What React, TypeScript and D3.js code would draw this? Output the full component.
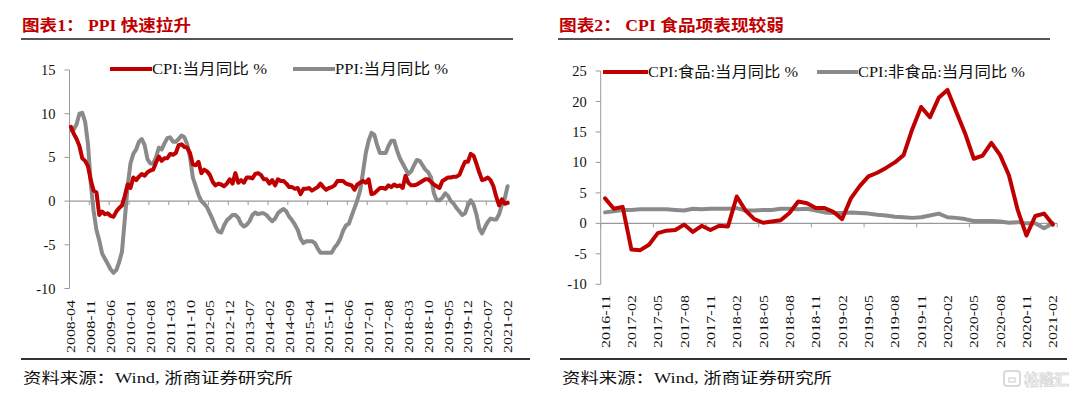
import * as d3 from "d3";

// 图表1 data: 2008-04 .. 2021-02 monthly
const cpiYoY = [
  8.5, 7.7, 7.1, 6.3, 4.9, 4.6, 4.0, 2.4, 1.2,
  1.0, -1.6, -1.2, -1.5, -1.4, -1.7, -1.8, -1.2, -0.8, -0.5, 0.6, 1.9,
  1.5, 2.7, 2.4, 2.8, 3.1, 2.9, 3.3, 3.5, 3.6, 4.4, 5.1, 4.6,
  4.9, 4.9, 5.4, 5.3, 5.5, 6.4, 6.5, 6.2, 6.1, 5.5, 4.2, 4.1,
  4.5, 3.2, 3.6, 3.4, 3.0, 2.2, 1.8, 2.0, 1.9, 1.7, 2.0, 2.5,
  2.0, 3.2, 2.1, 2.4, 2.1, 2.7, 2.7, 2.6, 3.1, 3.2, 3.0, 2.5,
  2.5, 2.0, 2.4, 1.8, 2.5, 2.3, 2.3, 2.0, 1.6, 1.6, 1.4, 1.5,
  0.8, 1.4, 1.4, 1.5, 1.2, 1.4, 1.6, 2.0, 1.6, 1.3, 1.5, 1.6,
  1.8, 2.3, 2.3, 2.3, 2.0, 1.9, 1.8, 1.3, 1.9, 2.1, 2.3, 2.1,
  2.5, 0.8, 0.9, 1.2, 1.5, 1.5, 1.4, 1.8, 1.6, 1.9, 1.7, 1.8,
  1.5, 2.9, 2.1, 1.8, 1.8, 1.9, 2.1, 2.3, 2.5, 2.5, 2.2, 1.9,
  1.7, 1.5, 2.3, 2.5, 2.7, 2.7, 2.8, 2.8, 3.0, 3.8, 4.5, 4.5,
  5.4, 5.2, 4.3, 3.3, 2.4, 2.5, 2.7, 2.4, 1.7, 0.5, -0.5, 0.2,
  -0.3, -0.2,
];

const ppiYoY = [
  8.1, 8.2, 8.8, 10.0, 10.1, 9.1, 6.6, 2.0, -1.1,
  -3.3, -4.5, -6.0, -6.6, -7.2, -7.8, -8.2, -7.9, -7.0, -5.8, -2.1, 1.7,
  4.3, 5.4, 5.9, 6.8, 7.1, 6.4, 4.8, 4.3, 4.3, 5.0, 6.1, 5.9,
  6.6, 7.2, 7.3, 6.8, 6.8, 7.1, 7.5, 7.3, 6.5, 5.0, 2.7, 1.7,
  0.7, 0.0, -0.3, -0.7, -1.4, -2.1, -2.9, -3.5, -3.6, -2.8, -2.2, -1.9,
  -1.6, -1.6, -1.9, -2.6, -2.9, -2.7, -2.3, -1.6, -1.3, -1.5, -1.4, -1.4,
  -1.6, -2.0, -2.3, -2.0, -1.4, -1.1, -0.9, -1.2, -1.8, -2.2, -2.7, -3.3,
  -4.3, -4.8, -4.6, -4.6, -4.6, -4.8, -5.4, -5.9, -5.9, -5.9, -5.9, -5.9,
  -5.3, -4.9, -4.3, -3.4, -2.8, -2.6, -1.7, -0.8, 0.1, 1.2, 3.3, 5.5,
  6.9, 7.8, 7.6, 6.4, 5.5, 5.5, 5.5, 6.3, 6.9, 6.9, 5.8, 4.9,
  4.3, 3.7, 3.1, 3.4, 4.1, 4.7, 4.6, 4.1, 3.6, 3.3, 2.7, 0.9,
  0.1, 0.1, 0.4, 0.9, 0.6, 0.0, -0.3, -0.8, -1.2, -1.6, -1.4, -0.5,
  0.1, -0.4, -1.5, -3.1, -3.7, -3.0, -2.4, -2.0, -2.1, -2.1, -1.5, -0.4,
  0.3, 1.7,
];

const leftLabels = [
  "2008-04", "2008-11", "2009-06", "2010-01", "2010-08", "2011-03", "2011-10",
  "2012-05", "2012-12", "2013-07", "2014-02", "2014-09", "2015-04", "2015-11",
  "2016-06", "2017-01", "2017-08", "2018-03", "2018-10", "2019-05", "2019-12",
  "2020-07", "2021-02",
];
const leftTicks = [15, 10, 5, 0, -5, -10];

// 图表2 data: 2016-11 .. 2021-02 monthly
const foodYoY = [
  4.1, 2.4,
  2.7, -4.3, -4.4, -3.5, -1.6, -1.2, -1.1, -0.2, -1.4, -0.4, -1.1, -0.4,
  -0.5, 4.4, 2.1, 0.7, 0.1, 0.3, 0.5, 1.7, 3.6, 3.3, 2.5, 2.5,
  1.9, 0.7, 4.1, 6.1, 7.7, 8.3, 9.1, 10.0, 11.2, 15.5, 19.1, 17.4,
  20.6, 21.9, 18.3, 14.8, 10.6, 11.1, 13.2, 11.2, 7.9, 2.2, -2.0, 1.2,
  1.6, -0.2,
];

const nonFoodYoY = [
  1.8, 2.0,
  2.2, 2.2, 2.3, 2.3, 2.3, 2.3, 2.2, 2.1, 2.4, 2.3, 2.4, 2.4,
  2.4, 2.5, 2.1, 2.1, 2.2, 2.2, 2.4, 2.4, 2.3, 2.4, 2.1, 1.8,
  1.7, 1.7, 1.8, 1.7, 1.6, 1.4, 1.3, 1.1, 1.0, 0.9, 1.0, 1.3,
  1.6, 1.0, 0.9, 0.7, 0.4, 0.4, 0.4, 0.3, 0.1, 0.2, 0.0, 0.0,
  -0.8, 0.0,
];

const rightLabels = [
  "2016-11", "2017-02", "2017-05", "2017-08", "2017-11", "2018-02", "2018-05",
  "2018-08", "2018-11", "2019-02", "2019-05", "2019-08", "2019-11", "2020-02",
  "2020-05", "2020-08", "2020-11", "2021-02",
];
const rightTicks = [25, 20, 15, 10, 5, 0, -5, -10];

const RED = "#C00000";
const GRAY = "#8A8A8A";
const AXIS = "#9A9A9A";
const SERIF = "'Liberation Serif', 'Times New Roman', 'Noto Sans CJK SC', serif";

function Panel({ left, right, top, bottom, yMin, yMax, ticks, labels, labelStep, tickStep, series, labelTop, legend, title, titleLen, footerX, ruleX1, ruleX2, titleRule }) {
  const n = series[0].values.length;
  const x = d3.scaleBand().domain(d3.range(n)).range([left, right]);
  const y = d3.scaleLinear().domain([yMin, yMax]).range([bottom, top]);
  const line = d3.line().x((d, i) => x(i) + x.bandwidth() / 2).y((d) => y(d)).curve(d3.curveLinear);
  const tickIdx = d3.range(0, n, tickStep);

  return (
    <g>
      <text x={titleRule[0] + 1} y={31} fill={RED} fontFamily={SERIF} fontWeight="bold" fontSize={16} textLength={titleLen} lengthAdjust="spacingAndGlyphs">{title}</text>
      <line x1={titleRule[0]} x2={titleRule[1]} y1={39} y2={39} stroke="#555" strokeWidth={2} />

      {/* y axis */}
      <line x1={left} x2={left} y1={y(yMax)} y2={y(yMin)} stroke={AXIS} strokeWidth={1} />
      {ticks.map((t) => (
        <g key={t}>
          <line x1={left - 5} x2={left} y1={y(t)} y2={y(t)} stroke={AXIS} />
          <text x={left - 14} y={y(t)} dy="0.35em" textAnchor="end" fontFamily={SERIF} fontSize={14.5} fill="#111">{t}</text>
        </g>
      ))}

      {/* zero axis */}
      <line x1={left} x2={right} y1={y(0)} y2={y(0)} stroke={AXIS} strokeWidth={1.2} />
      {tickIdx.map((i) => (
        <line key={i} x1={x(i)} x2={x(i)} y1={y(0)} y2={y(0) + 4} stroke={AXIS} />
      ))}
      <line x1={right} x2={right} y1={y(0)} y2={y(0) + 4} stroke={AXIS} />

      {labels.map((lab, k) => {
        const cx = x(k * labelStep) + x.bandwidth() / 2;
        return (
          <text key={lab} transform={`translate(${cx},${labelTop}) rotate(-90)`} textAnchor="end" dominantBaseline="central" fontFamily={SERIF} fontSize={13.5} fill="#111" textLength={53} lengthAdjust="spacingAndGlyphs">{lab}</text>
        );
      })}

      {series.map((s) => (
        <path key={s.name} d={line(s.values)} fill="none" stroke={s.color} strokeWidth={4} strokeLinejoin="round" strokeLinecap="round" />
      ))}

      {legend.map((l) => (
        <g key={l.text}>
          <line x1={l.x1} x2={l.x2} y1={l.y} y2={l.y} stroke={l.color} strokeWidth={4} />
          <text x={l.x2} y={l.y + 5} fontFamily={SERIF} fontSize={15} fill="#111" textLength={l.len} lengthAdjust="spacingAndGlyphs">{l.text}</text>
        </g>
      ))}

      <line x1={ruleX1} x2={ruleX2} y1={359} y2={359} stroke="#333" strokeWidth={2} />
      <text x={footerX} y={383} fontFamily={SERIF} fontSize={15} fill="#111" textLength={270} lengthAdjust="spacingAndGlyphs">资料来源：Wind, 浙商证券研究所</text>
    </g>
  );
}

export default function App() {
  return (
    <svg width={1080} height={397} style={{ position: "absolute", left: 0, top: 0, background: "#fff" }}>
      <rect width={1080} height={397} fill="#fff" />
      <Panel
        left={69.5} right={509} top={70} bottom={288.5}
        yMin={-10} yMax={15} ticks={leftTicks}
        labels={leftLabels} labelStep={7} tickStep={7} labelTop={300}
        series={[
          { name: "cpi", values: cpiYoY, color: RED },
          { name: "ppi", values: ppiYoY, color: GRAY },
        ].reverse()}
        legend={[
          { x1: 110, x2: 152, y: 69, color: RED, text: "CPI:当月同比 %", len: 115 },
          { x1: 293, x2: 335, y: 69, color: GRAY, text: "PPI:当月同比 %", len: 113 },
        ]}
        title="图表1： PPI 快速拉升" titleLen={169} titleRule={[21, 513]}
        footerX={23} ruleX1={21} ruleX2={530}
      />
      <Panel
        left={600.7} right={1057.2} top={71} bottom={284.3}
        yMin={-10} yMax={25} ticks={rightTicks}
        labels={rightLabels} labelStep={3} tickStep={6} labelTop={295}
        series={[
          { name: "nonfood", values: nonFoodYoY, color: GRAY },
          { name: "food", values: foodYoY, color: RED },
        ]}
        legend={[
          { x1: 603, x2: 648, y: 72, color: RED, text: "CPI:食品:当月同比 %", len: 150 },
          { x1: 817, x2: 858, y: 72, color: GRAY, text: "CPI:非食品:当月同比 %", len: 167 },
        ]}
        title="图表2： CPI 食品项表现较弱" titleLen={225} titleRule={[558, 1050]}
        footerX={562} ruleX1={560} ruleX2={1067}
      />
      {/* watermark */}
      <g opacity={0.55}>
        <rect x={1004} y={371} width={16} height={15} rx={3} fill="none" stroke="#bdbdbd" strokeWidth={2} />
        <path d="M1009 378 h6 v4 h-6 z" fill="none" stroke="#bdbdbd" strokeWidth={1.5} />
        <text x={1024} y={385} fontFamily="'Noto Sans CJK SC', sans-serif" fontSize={15} fill="#fff" stroke="#bdbdbd" strokeWidth={1} fontWeight="bold">格隆汇</text>
      </g>
    </svg>
  );
}
